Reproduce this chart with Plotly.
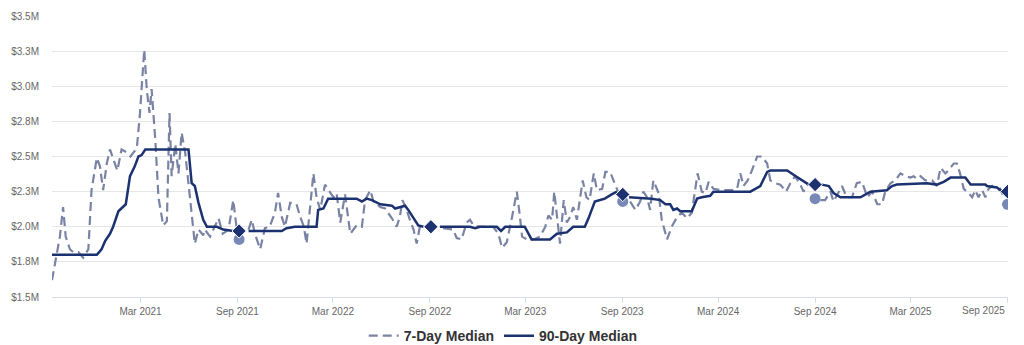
import plotly.graph_objects as go

# ---------------- data (values in $ millions) ----------------
# 7-Day Median; None separates segments (gaps in the line)
d7_dates = [
    "2020-09-14", "2020-09-23", "2020-09-29", "2020-10-05", "2020-10-10", "2020-10-18",
    "2020-10-24", "2020-11-03", "2020-11-12", "2020-11-22", "2020-11-28", "2020-12-08",
    "2020-12-14", "2020-12-20", "2020-12-27", "2021-01-02", "2021-01-08", "2021-01-16",
    "2021-01-24", "2021-02-03", "2021-02-10", "2021-02-22", "2021-02-28", "2021-03-08",
    "2021-03-13", "2021-03-18", "2021-03-22", "2021-03-29", "2021-04-04", "2021-04-13",
    "2021-04-20", "2021-04-25", "2021-04-29", "2021-05-06", "2021-05-12", "2021-05-18",
    "2021-05-25", "2021-05-31", "2021-06-06", "2021-06-12", "2021-06-19", "2021-06-28",
    "2021-07-01", "2021-07-11", "2021-07-27", "2021-08-04", "2021-08-15", "2021-08-24",
    "2021-08-30", None,
    "2021-09-22", "2021-09-28", "2021-10-04", "2021-10-14", "2021-10-23", "2021-11-01",
    "2021-11-11", "2021-11-17", "2021-11-24", "2021-11-30", "2021-12-10", "2021-12-22",
    "2021-12-29", "2022-01-05", "2022-01-10", "2022-01-17", "2022-01-23", "2022-01-29",
    "2022-02-05", "2022-02-14", "2022-02-23", "2022-03-02", "2022-03-08", "2022-03-15",
    "2022-03-24", "2022-04-03", "2022-04-15", "2022-04-25", "2022-05-01", "2022-05-11",
    "2022-05-17", "2022-05-30", "2022-06-08", "2022-06-21", "2022-06-30", "2022-07-06",
    "2022-07-11", "2022-07-19", "2022-07-25", "2022-08-01", "2022-08-07", "2022-08-13",
    None,
    "2022-09-26", "2022-10-15", "2022-10-22", "2022-10-31", "2022-11-10", "2022-11-16",
    "2022-11-23", "2022-12-05", "2022-12-30", "2023-01-09", "2023-01-16", "2023-01-25",
    "2023-02-04", "2023-02-13", "2023-02-18", "2023-02-23", "2023-03-04", "2023-03-17",
    "2023-03-29", "2023-04-08", "2023-04-14", "2023-04-21", "2023-04-25", "2023-04-30",
    "2023-05-06", "2023-05-13", "2023-05-19", "2023-05-25", "2023-05-31", "2023-06-07",
    "2023-06-13", "2023-06-18", "2023-06-25", "2023-07-01", "2023-07-09", "2023-07-15",
    "2023-07-25", "2023-07-31", "2023-08-09", "2023-08-17", "2023-08-24", None,
    "2023-09-16", "2023-09-26", "2023-10-05", "2023-10-11", "2023-10-18", "2023-10-24",
    "2023-10-30", "2023-11-09", "2023-11-15", "2023-11-25", "2023-12-04", "2023-12-14",
    "2023-12-23", "2024-01-02", "2024-01-11", "2024-01-17", "2024-01-22", "2024-01-30",
    "2024-02-06", "2024-02-12", "2024-02-21", "2024-03-08", "2024-03-27", "2024-04-06",
    "2024-04-12", "2024-04-18", "2024-04-26", "2024-05-04", "2024-05-14", "2024-05-23",
    "2024-06-02", "2024-06-08", "2024-06-17", "2024-06-27", "2024-07-08", "2024-07-16",
    "2024-07-25", "2024-08-04", "2024-08-10", "2024-08-17", None,
    "2024-09-11", "2024-09-20", "2024-09-30", "2024-10-06", "2024-10-22", "2024-10-31",
    "2024-11-10", "2024-11-19", "2024-11-29", "2024-12-09", "2024-12-18", "2024-12-28",
    "2025-01-06", "2025-01-12", "2025-01-22", "2025-01-31", "2025-02-10", "2025-02-19",
    "2025-03-01", "2025-03-07", "2025-03-13", "2025-03-20", "2025-03-29", "2025-04-11",
    "2025-04-20", "2025-04-27", "2025-05-06", "2025-05-12", "2025-05-22", "2025-05-28",
    "2025-06-03", "2025-06-10", "2025-06-19", "2025-06-26", "2025-07-02", "2025-07-08",
    "2025-07-15", "2025-07-21", "2025-07-27", "2025-08-03", "2025-08-12", "2025-08-18",
    "2025-08-25",
]
d7_vals = [
    1.62, 1.79, 1.93, 2.14, 1.93, 1.84,
    1.82, 1.82, 1.78, 1.84, 2.26, 2.49,
    2.43, 2.26, 2.45, 2.55, 2.49, 2.40,
    2.55, 2.53, 2.50, 2.56, 2.81, 3.26,
    2.97, 2.81, 2.98, 2.62, 2.21, 2.01,
    2.04, 2.81, 2.36, 2.59, 2.38, 2.67,
    2.52, 2.31, 2.07, 1.88, 1.98, 1.94,
    1.98, 1.93, 2.06, 1.95, 1.98, 2.19,
    2.00, None,
    1.98, 2.05, 1.95, 1.84, 1.99, 2.00,
    2.10, 2.24, 2.07, 2.00, 2.17, 2.16,
    2.07, 2.00, 1.88, 2.14, 2.38, 2.21,
    2.12, 2.30, 2.25, 2.21, 2.24, 2.03,
    2.23, 1.95, 2.01, 2.00, 2.19, 2.26,
    2.18, 2.14, 2.13, 2.06, 2.00, 2.07,
    2.19, 2.12, 2.05, 1.98, 1.88, 2.00,
    None,
    1.99, 1.98, 1.92, 1.91, 2.03, 2.05,
    2.01, 2.00, 2.00, 1.95, 1.85, 1.89,
    2.07, 2.25, 2.10, 1.93, 1.91, 1.91,
    1.93, 2.00, 2.08, 2.05, 2.25, 2.07,
    1.88, 2.19, 2.03, 2.07, 2.14, 2.05,
    2.19, 2.33, 2.21, 2.19, 2.38, 2.26,
    2.27, 2.39, 2.39, 2.32, 2.25, None,
    2.18, 2.12, 2.18, 2.25, 2.21, 2.12,
    2.33, 2.24, 2.05, 1.91, 2.00, 2.07,
    2.10, 2.06, 2.10, 2.26, 2.38, 2.25,
    2.24, 2.32, 2.27, 2.26, 2.26, 2.27,
    2.38, 2.29, 2.33, 2.40, 2.50, 2.50,
    2.45, 2.33, 2.31, 2.30, 2.25, 2.31,
    2.36, 2.30, 2.25, 2.30, None,
    2.19, 2.19, 2.25, 2.18, 2.29, 2.21,
    2.21, 2.31, 2.32, 2.21, 2.25, 2.16,
    2.16, 2.25, 2.31, 2.33, 2.38, 2.36,
    2.35, 2.36, 2.34, 2.36, 2.33, 2.33,
    2.29, 2.42, 2.38, 2.40, 2.45, 2.45,
    2.38, 2.27, 2.24, 2.21, 2.26, 2.21,
    2.26, 2.21, 2.27, 2.29, 2.26, 2.27,
    2.21,
]

# 90-Day Median; None separates segments
d90_dates = [
    "2020-09-14", "2020-12-08", "2020-12-17", "2020-12-24", "2021-01-02", "2021-01-08",
    "2021-01-18", "2021-01-24", "2021-02-01", "2021-02-09", "2021-02-18", "2021-02-25",
    "2021-03-03", "2021-03-10", "2021-03-25", "2021-05-31", "2021-06-06", "2021-06-12",
    "2021-06-19", "2021-06-28", "2021-07-05", "2021-07-24", "2021-08-05", "2021-08-24",
    None,
    "2021-09-22", "2021-11-24", "2021-12-03", "2021-12-19", "2022-01-29", "2022-02-01",
    "2022-02-11", "2022-02-20", "2022-04-15", "2022-04-25", "2022-05-04", "2022-05-14",
    "2022-05-30", "2022-06-21", "2022-06-27", "2022-07-06", "2022-07-16", "2022-07-22",
    "2022-08-10", "2022-08-20", None,
    "2022-09-20", "2022-11-16", "2022-11-26", "2022-12-05", "2023-01-06", "2023-01-14",
    "2023-01-22", "2023-02-28", "2023-03-13", "2023-04-17", "2023-04-30", "2023-05-19",
    "2023-05-31", "2023-06-22", "2023-06-29", "2023-07-11", "2023-07-21", "2023-07-30",
    "2023-08-12", "2023-08-22", None,
    "2023-09-14", "2023-10-27", "2023-11-12", "2023-11-22", "2023-12-01", "2023-12-07",
    "2023-12-14", "2023-12-20", "2024-01-11", "2024-01-21", "2024-01-30", "2024-02-15",
    "2024-02-21", "2024-04-12", "2024-04-21", "2024-05-01", "2024-05-20", "2024-06-02",
    "2024-06-08", "2024-07-10", "2024-07-22", "2024-08-10", "2024-08-20", None,
    "2024-09-14", "2024-09-27", "2024-10-06", "2024-10-19", "2024-11-26", "2024-12-05",
    "2024-12-15", "2025-01-15", "2025-01-25", "2025-02-03", "2025-04-01", "2025-04-20",
    "2025-05-03", "2025-05-16", "2025-06-13", "2025-06-23", "2025-07-21", "2025-07-24",
    "2025-08-12", "2025-08-22",
]
d90_vals = [
    1.80, 1.80, 1.84, 1.90, 1.95, 2.00,
    2.11, 2.13, 2.16, 2.36, 2.43, 2.50,
    2.51, 2.55, 2.55, 2.55, 2.31, 2.29,
    2.17, 2.05, 2.00, 2.00, 1.98, 1.97,
    None,
    1.97, 1.97, 1.99, 2.00, 2.00, 2.12,
    2.13, 2.20, 2.20, 2.18, 2.20, 2.19,
    2.16, 2.15, 2.13, 2.14, 2.15, 2.12,
    2.01, 2.00, None,
    2.00, 2.00, 1.99, 2.00, 2.00, 1.97,
    2.00, 2.00, 1.91, 1.91, 1.95, 1.96,
    2.00, 2.00, 2.06, 2.18, 2.19, 2.20,
    2.23, 2.25, None,
    2.21, 2.20, 2.19, 2.16, 2.16, 2.12,
    2.13, 2.11, 2.11, 2.20, 2.21, 2.22,
    2.25, 2.25, 2.25, 2.25, 2.29, 2.39,
    2.40, 2.40, 2.37, 2.32, 2.30, None,
    2.30, 2.29, 2.24, 2.21, 2.21, 2.23,
    2.25, 2.26, 2.29, 2.30, 2.31, 2.30,
    2.32, 2.35, 2.35, 2.30, 2.30, 2.29,
    2.28, 2.25,
]

# isolated annual points (drawn as markers)
annual_dates = ["2021-09-04", "2022-09-03", "2023-09-02", "2024-09-01", "2025-09-01"]
annual_7 = [1.91, None, 2.18, 2.20, 2.16]
annual_90 = [1.97, 2.00, 2.23, 2.30, 2.25]

x_tick_dates = ["2021-03-01", "2021-09-01", "2022-03-01", "2022-09-01", "2023-03-01",
                "2023-09-01", "2024-03-01", "2024-09-01", "2025-03-01", "2025-09-01"]
x_tick_text = ["Mar 2021", "Sep 2021", "Mar 2022", "Sep 2022", "Mar 2023",
               "Sep 2023", "Mar 2024", "Sep 2024", "Mar 2025", "Sep 2025"]
y_tick_vals = [1.5, 1.75, 2.0, 2.25, 2.5, 2.75, 3.0, 3.25, 3.5]
y_tick_text = ["$1.5M", "$1.8M", "$2.0M", "$2.3M", "$2.5M", "$2.8M", "$3.0M", "$3.3M", "$3.5M"]

# ---------------- styles ----------------
C7 = "#7a83a4"
C7_MARK = "#7889b8"
C90 = "#1c3270"
FONT = "Liberation Sans, Arial, sans-serif"

fig = go.Figure()
fig.add_trace(go.Scatter(
    x=d7_dates, y=d7_vals, mode="lines", name="7-Day Median",
    line=dict(color=C7, width=2.2, dash="9px,5px"), connectgaps=False,
))
fig.add_trace(go.Scatter(
    x=annual_dates, y=annual_7, mode="markers", showlegend=False,
    marker=dict(symbol="circle", size=11, color=C7_MARK),
))
fig.add_trace(go.Scatter(
    x=d90_dates, y=d90_vals, mode="lines", name="90-Day Median",
    line=dict(color=C90, width=2.5), connectgaps=False,
))
fig.add_trace(go.Scatter(
    x=annual_dates, y=annual_90, mode="markers", showlegend=False,
    marker=dict(symbol="diamond", size=11, color=C90,
                line=dict(color="white", width=1)),
))

# last tick label is shifted left so it stays inside the chart (as in the original)
shown_tick_text = x_tick_text[:-1] + [""]

fig.update_layout(
    width=1024, height=345,
    margin=dict(l=52, r=16, t=16, b=48, autoexpand=False),
    paper_bgcolor="white", plot_bgcolor="white",
    font=dict(family=FONT, color="#666666", size=10),
    showlegend=True,
    legend=dict(
        orientation="h", x=0.472, xanchor="center", y=-0.139, yanchor="middle",
        font=dict(family=FONT, size=14, color="#333333", weight="bold"),
        itemwidth=30, tracegroupgap=0, bgcolor="rgba(0,0,0,0)",
    ),
    xaxis=dict(
        type="date", range=["2020-09-14", "2025-09-02"],
        tickvals=x_tick_dates, ticktext=shown_tick_text,
        showgrid=False, showline=True, linecolor="#d6dbe6", linewidth=1,
        ticks="outside", ticklen=5, tickcolor="#d6dbe6",
        tickfont=dict(size=10, color="#666666"), zeroline=False,
    ),
    yaxis=dict(
        range=[1.5, 3.5], tickvals=y_tick_vals, ticktext=y_tick_text,
        showgrid=True, gridcolor="#e6e6e6", gridwidth=1, zeroline=False,
        showline=False, ticks="", ticklabelstandoff=12,
        tickfont=dict(size=10, color="#666666"),
    ),
    annotations=[dict(
        x=x_tick_dates[-1], xref="x", xanchor="right",
        y=-0.047, yref="paper", yanchor="middle",
        text=x_tick_text[-1], showarrow=False,
        font=dict(family=FONT, size=10, color="#666666"),
    )],
)

fig.write_html("out.html")
